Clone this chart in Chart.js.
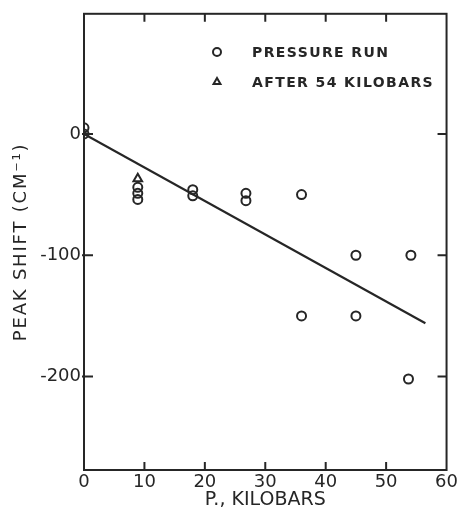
<!DOCTYPE html>
<html>
<head>
<meta charset="utf-8">
<script src="https://cdn.jsdelivr.net/npm/chart.js@4.4.1/dist/chart.umd.min.js"></script>
<style>
  html, body { margin: 0; padding: 0; background: #fff; }
</style>
</head>
<body>
<canvas id="shiftChart" width="460" height="510"></canvas>
<script>
// ── values ────────────────────────────────────────────────────────────────
const runP       = [0, 0, 8.9, 8.9, 8.9, 18, 18, 26.8, 26.8, 36, 36, 45, 45, 54.1, 53.7];
const runShift   = [5, 0, -44, -49, -54, -46, -51, -49, -55, -50, -150, -100, -150, -100, -202];
const afterP     = [8.9];
const afterShift = [-37];
const fitP       = [0, 56.5];
const fitShift   = [0, -156];
const xTicks     = [0, 10, 20, 30, 40, 50, 60];
const yTicks     = [0, -100, -200];

const INK  = '#262626';
const FONT = '"DejaVu Sans", Arial, sans-serif';

const toPts = (xs, ys) => xs.map((x, i) => ({ x, y: ys[i] }));

// the lettering on the original is widely spaced; patch the title draw once
const spacedTitle = spacing => s => {
  if (s._spaced) return;
  const orig = s.drawTitle.bind(s);
  s.drawTitle = function () {
    this.ctx.save();
    this.ctx.letterSpacing = spacing;
    orig();
    this.ctx.restore();
  };
  s._spaced = true;
};

// ── frame + inward tick marks on all four sides ───────────────────────────
const frameTicks = {
  id: 'frameTicks',
  afterDatasetsDraw(chart) {
    const { ctx, chartArea: a, scales: { x, y } } = chart;
    ctx.save();
    ctx.strokeStyle = INK;
    ctx.lineWidth = 2;
    ctx.strokeRect(a.left, a.top, a.right - a.left, a.bottom - a.top);
    ctx.beginPath();
    x.ticks.forEach(t => {
      if (t.value <= x.min || t.value >= x.max) return;
      const px = x.getPixelForValue(t.value);
      ctx.moveTo(px, a.bottom); ctx.lineTo(px, a.bottom - 8);
      ctx.moveTo(px, a.top);    ctx.lineTo(px, a.top + 8);
    });
    y.ticks.forEach(t => {
      const py = y.getPixelForValue(t.value);
      ctx.moveTo(a.left - 2, py); ctx.lineTo(a.left + 9, py);
      ctx.moveTo(a.right, py);    ctx.lineTo(a.right - 9, py);
    });
    ctx.stroke();
    ctx.restore();
  }
};

// ── legend drawn inside the plot, upper right ─────────────────────────────
const plotLegend = {
  id: 'plotLegend',
  afterDraw(chart) {
    const { ctx } = chart;
    const rows = [{ ds: 0, y: 52 }, { ds: 1, y: 82 }];
    ctx.save();
    ctx.strokeStyle = INK;
    ctx.lineWidth = 2;
    ctx.font = 'bold 14px ' + FONT;
    ctx.textBaseline = 'middle';
    ctx.letterSpacing = '1.4px';
    rows.forEach(r => {
      const d = chart.data.datasets[r.ds];
      ctx.fillStyle = 'rgba(255,255,255,0)';
      Chart.helpers.drawPoint(ctx, { pointStyle: d.pointStyle, radius: 4, borderWidth: 2, rotation: 0 }, 217, r.y);
      ctx.fillStyle = INK;
      ctx.fillText(d.label, 252, r.y + 1);
    });
    ctx.restore();
  }
};

new Chart(document.getElementById('shiftChart'), {
  type: 'scatter',
  data: {
    datasets: [
      { label: 'PRESSURE RUN', data: toPts(runP, runShift), pointStyle: 'circle',
        pointRadius: 4.5, pointBorderWidth: 2, borderColor: INK, backgroundColor: 'rgba(255,255,255,0)' },
      { label: 'AFTER 54 KILOBARS', data: toPts(afterP, afterShift), pointStyle: 'triangle',
        pointRadius: 5, pointBorderWidth: 2, borderColor: INK, backgroundColor: 'rgba(255,255,255,0)' },
      { label: 'fit', data: toPts(fitP, fitShift), showLine: true, pointRadius: 0,
        borderColor: INK, borderWidth: 2.2 }
    ]
  },
  options: {
    responsive: false,
    animation: false,
    layout: { padding: { top: 13, right: 11, bottom: 0, left: 0 } },
    plugins: { legend: { display: false }, tooltip: { enabled: false } },
    scales: {
      x: {
        type: 'linear', min: 0, max: 60,
        afterBuildTicks: s => { s.ticks = xTicks.map(v => ({ value: v })); },
        afterFit: s => { s.height = 40; },
        grid: { display: false, drawTicks: false },
        border: { display: false },
        ticks: { color: INK, font: { family: FONT, size: 18 }, padding: 2, maxRotation: 0 },
        title: { display: true, text: 'P., KILOBARS', color: INK,
                 font: { family: FONT, size: 19, lineHeight: 1 }, padding: { top: 0, bottom: 0 } }
      },
      y: {
        type: 'linear', min: -277, max: 99,
        afterBuildTicks: s => { s.ticks = yTicks.map(v => ({ value: v })); },
        afterFit: s => { s.width = 84; spacedTitle('1.8px')(s); },
        grid: { display: false, drawTicks: false },
        border: { display: false },
        ticks: { color: INK, font: { family: FONT, size: 18 }, padding: 3 },
        title: { display: true, text: 'PEAK SHIFT (CM⁻¹)', color: INK,
                 font: { family: FONT, size: 18, lineHeight: 1 }, padding: { top: 12, bottom: 0 } }
      }
    }
  },
  plugins: [frameTicks, plotLegend]
});
</script>
</body>
</html>
